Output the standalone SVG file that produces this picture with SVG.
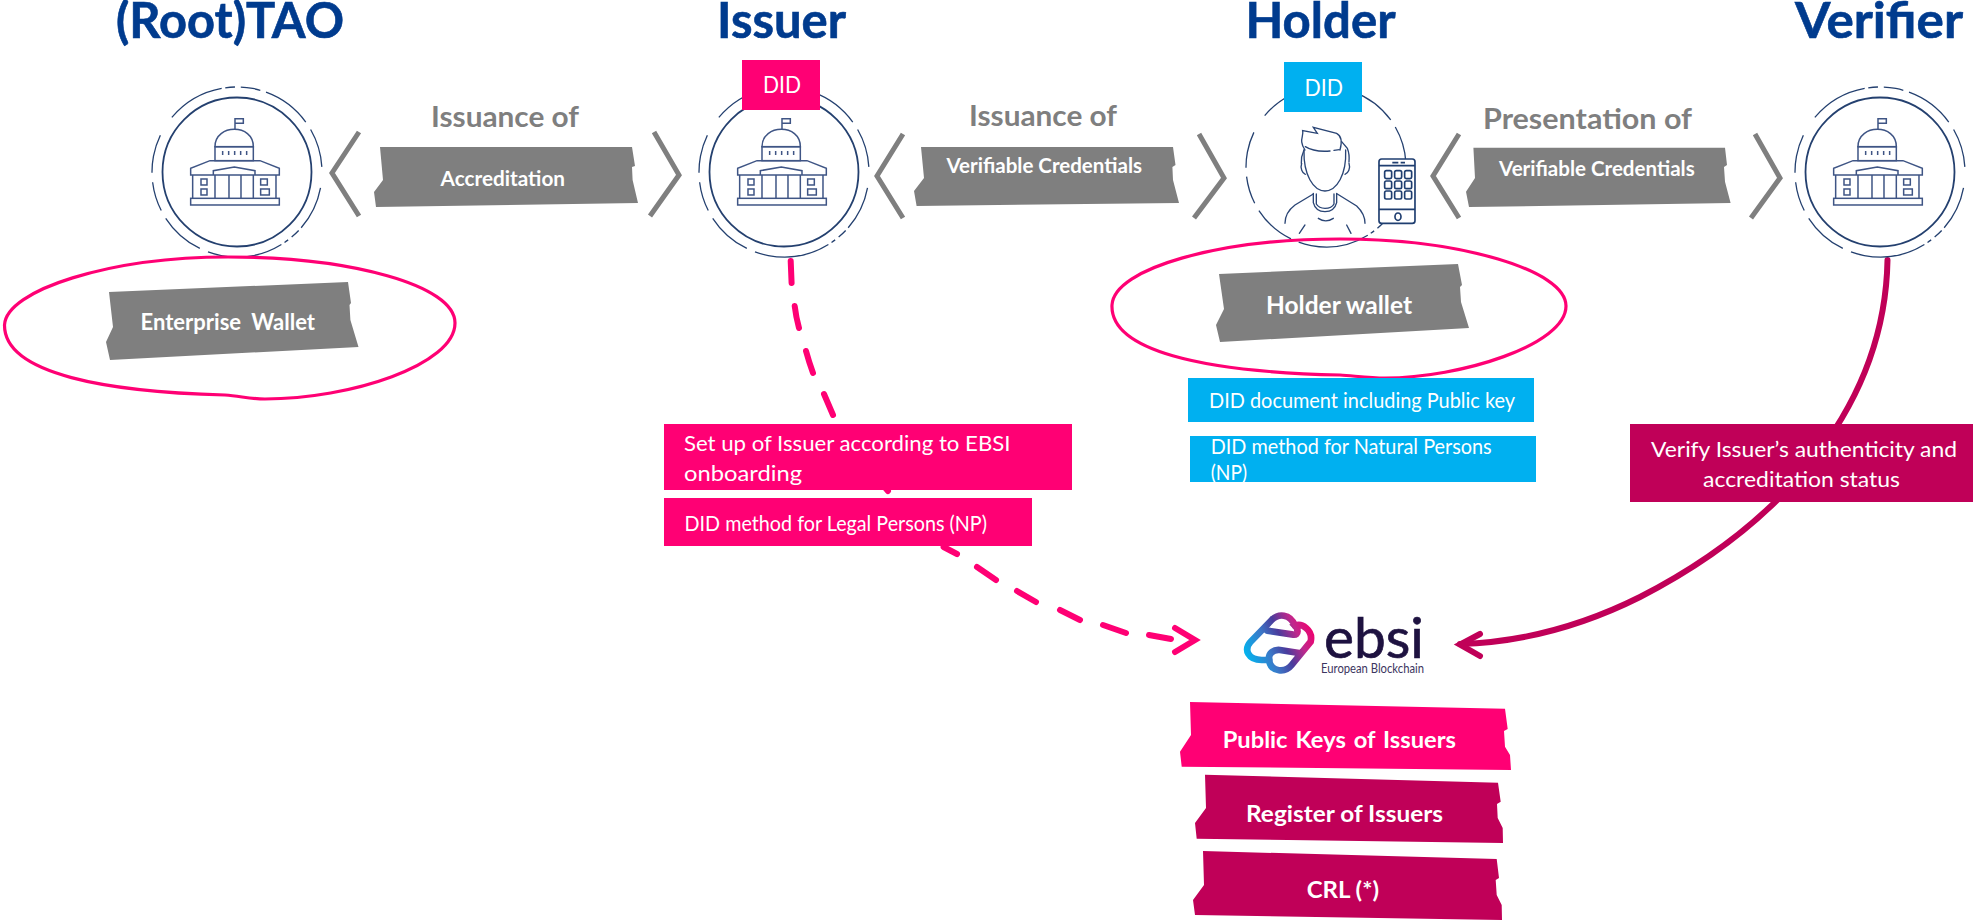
<svg xmlns="http://www.w3.org/2000/svg" width="1973" height="920" viewBox="0 0 1973 920">
<style>
text{font-family:Lato,"Open Sans","Liberation Sans",sans-serif}
.title{font-size:49px;font-weight:700;fill:#003b8e;stroke:#003b8e;stroke-width:.6}
.cap{font-size:29px;font-weight:700;fill:#7f7f7f}
.rb{font-size:20px;font-weight:700;fill:#fff}
.rb2{font-size:22px;font-weight:700;fill:#fff}
.lbl{font-size:21px;fill:#fff}
.did{font-size:23px;fill:#fff}
.gray{fill:#7f7f7f}.pink{fill:#ff0074}.crim{fill:#c00058}.blue{fill:#00b0f0}
.chev{fill:none;stroke:#7f7f7f;stroke-width:5}
.wal{fill:none;stroke:#ff0074;stroke-width:3.200}
.ring{fill:none;stroke:#24406f;stroke-width:1.3;stroke-dasharray:30.3 2.5 6.5 3 3 2.5 51.5 6 31 6 20 6.5 26.2 14.3 39.6 2.4 6.6 3.9 13.5 4 34 6 26.5 14.2}
.bld{fill:none;stroke:#3f5585;stroke-width:4.5}
.per{fill:none;stroke:#2a4575;stroke-width:4;stroke-linecap:round}
.ph{fill:none;stroke:#1f3e70;stroke-width:5}
</style>
<defs>
<g id="gov">
<circle r="74.5" fill="none" stroke="#24406f" stroke-width="1.8"/>
<circle r="85" pathLength="360" class="ring" transform="rotate(10.7)"/>
<g class="bld" transform="translate(-97 -102) scale(.3333)">
<path d="M285 178V146H310V160H287"/>
<path d="M225 230C225 195 255 178 283 178C312 178 340 195 340 230Z"/>
<rect x="225" y="230" width="115" height="42"/>
<path d="M248 243V255M266 243V255M284 243V255M302 243V255M320 243V255"/>
<path d="M210 272H360L418 295V315H152V295Z"/>
<path d="M220 315V302L283 291L345 302V315"/>
<path d="M158 315V385M408 315V385M225 315V385M267 315V385M303 315V385M340 315V385"/>
<rect x="152" y="385" width="266" height="20"/>
<rect x="183" y="327" width="18" height="18"/><rect x="183" y="357" width="18" height="18"/>
<rect x="362" y="327" width="20" height="18"/><rect x="362" y="357" width="26" height="18"/>
</g>
</g>
<linearGradient id="eb" gradientUnits="userSpaceOnUse" x1="50" y1="150" x2="250" y2="60">
<stop offset="0" stop-color="#00b6f0"/><stop offset=".33" stop-color="#3b78c8"/><stop offset=".55" stop-color="#4a3c9c"/><stop offset=".78" stop-color="#c0288c"/><stop offset="1" stop-color="#f0006e"/>
</linearGradient>
<clipPath id="npclip"><rect x="1190" y="436" width="346" height="46"/></clipPath>
</defs>

<g id="connectors">
<path id="issuer-to-ebsi" fill="none" stroke="#ff0074" stroke-width="6" stroke-linecap="round" stroke-linejoin="miter" d="M790.7 261L791.6 283M794.7 306Q796 317 799 328M806 351Q809 362 813 373M824 394L833 415M870 470L888 491M943.6 547L957 554M977 567L996 580M1017 591L1036 602M1060 610L1080 620M1103 625L1126 633M1149 635L1171 639M1175 628L1195 640L1175 652"/>
<path id="verifier-to-ebsi" fill="none" stroke="#c00058" stroke-width="6" stroke-linecap="round" d="M1887.5 260C1885 400 1790 520 1640 597C1590 622 1530 642 1460 644"/>
<path fill="none" stroke="#c00058" stroke-width="6" stroke-linecap="round" d="M1480 634L1460 644.500L1480 656"/>
<polyline class="chev" points="359,132 332,173 359,216"/>
<polyline class="chev" points="654,132 679,175 650,216"/>
<polyline class="chev" points="903,134 877,176 903,218"/>
<polyline class="chev" points="1199,134 1224,178 1194,218"/>
<polyline class="chev" points="1459,134 1433,176 1459,218"/>
<polyline class="chev" points="1755,134 1780,178 1751,218"/>
</g>

<g id="root-tao">
<text class="title" x="116" y="38" textLength="228" lengthAdjust="spacingAndGlyphs">(Root)TAO</text>
<use href="#gov" x="237" y="172"/>
</g>
<g id="issuer">
<text class="title" x="717" y="38" textLength="129" lengthAdjust="spacingAndGlyphs">Issuer</text>
<use href="#gov" x="784" y="172"/>
<rect class="pink" x="742" y="60" width="78" height="50"/>
<text class="did" x="763" y="92.700" textLength="38" lengthAdjust="spacingAndGlyphs">DID</text>
</g>
<g id="holder">
<text class="title" x="1245.500" y="38" textLength="150" lengthAdjust="spacingAndGlyphs">Holder</text>
<circle cx="1326" cy="167" r="80" pathLength="360" class="ring" transform="rotate(10.7 1326 167)"/>
<rect class="blue" x="1284" y="62" width="78" height="50"/>
<text class="did" x="1304.500" y="95.700" textLength="38.500" lengthAdjust="spacingAndGlyphs">DID</text>
<g transform="translate(1230 100) scale(.3333)">
<g class="per">
<path d="M225 150C205 120 222 110 218 92L262 100L250 82L320 100C335 108 337 125 330 150"/>
<path d="M226 140C245 152 275 155 300 153M312 151L328 149"/>
<path d="M335 125L352 145C358 160 358 175 357 186M222 150C215 165 213 175 214 190"/>
<path d="M222 150C220 225 250 272 285 273C320 272 350 225 347 150"/>
<path d="M215 190C210 205 217 220 226 223M357 190C362 205 355 220 345 223"/>
<path d="M250 280V308C255 328 270 335 285 335C300 335 315 328 320 308V280"/>
<path d="M259 282V312C265 322 275 325 285 325C297 325 307 322 312 312V282"/>
<path d="M250 282L195 315C175 330 165 350 165 370M322 282L380 318C398 335 405 350 405 370"/>
<path d="M265 355C280 365 295 365 310 355M225 375L208 400M350 375L363 400"/>
</g>
<g class="ph">
<rect x="447" y="177" width="108" height="193" rx="8" fill="#fff"/>
<path d="M447 197H555M447 328H555M487 188H505M512 188H525"/>
<rect x="464" y="212" width="21" height="24" rx="5"/><rect x="494" y="212" width="21" height="24" rx="5"/><rect x="524" y="212" width="21" height="24" rx="5"/>
<rect x="464" y="243" width="21" height="23" rx="5"/><rect x="494" y="243" width="21" height="23" rx="5"/><rect x="524" y="243" width="21" height="23" rx="5"/>
<rect x="464" y="273" width="21" height="24" rx="5"/><rect x="494" y="273" width="21" height="24" rx="5"/><rect x="524" y="273" width="21" height="24" rx="5"/>
<ellipse cx="504" cy="350" rx="9" ry="11"/>
</g>
</g>
</g>
<g id="verifier">
<text class="title" x="1795" y="38" textLength="168" lengthAdjust="spacingAndGlyphs">Verifier</text>
<use href="#gov" x="1880" y="172"/>
</g>

<g id="accreditation">
<text class="cap" x="431" y="127" textLength="148" lengthAdjust="spacingAndGlyphs">Issuance of</text>
<path class="gray" d="M380 147H632L635 166L632 167L632.600 180L638 203L376 207L374 192L383 180Z"/>
<text class="rb" x="440.600" y="186" textLength="124.400" lengthAdjust="spacingAndGlyphs">Accreditation</text>
</g>
<g id="issuance-vc">
<text class="cap" x="969" y="126" textLength="148" lengthAdjust="spacingAndGlyphs">Issuance of</text>
<path class="gray" d="M921 147H1173L1175.500 165L1172.400 167L1173 180L1179 203L916.600 206L914 191L924 178Z"/>
<text class="rb" x="946.500" y="172.700" textLength="195.500" lengthAdjust="spacingAndGlyphs">Verifiable Credentials</text>
</g>
<g id="presentation-vc">
<text class="cap" x="1483" y="129" textLength="209" lengthAdjust="spacingAndGlyphs">Presentation of</text>
<path class="gray" d="M1473.400 147.700H1725L1727 165L1724 167L1725 181.700L1730.600 203L1469 207L1466 191.700L1475 178Z"/>
<text class="rb" x="1499" y="176" textLength="195.700" lengthAdjust="spacingAndGlyphs">Verifiable Credentials</text>
</g>

<g id="enterprise-wallet">
<path class="gray" d="M109 292L348 282L351 303L349.500 305L350.400 320L358.500 347L110 360L106 342L113 327Z"/>
<text class="rb2" x="140.600" y="330" textLength="174.400" lengthAdjust="spacingAndGlyphs" word-spacing="5">Enterprise Wallet</text>
<path class="wal" d="M4.500 325C6 290 110 257 228 257C350 257 455 285 455 323C455 365 350 399 265 399C250 399 240 396 225 395C110 392 4 375 4.500 325Z"/>
</g>
<g id="holder-wallet">
<path class="gray" d="M1219 274L1458 264L1462 285L1460 287L1461 302L1469 328L1220 342L1216 325L1224 309Z"/>
<text x="1266" y="314" font-size="24" font-weight="700" fill="#fff" textLength="146" lengthAdjust="spacingAndGlyphs">Holder wallet</text>
<path class="wal" d="M1112 305C1114 268 1220 239 1340 239C1460 239 1566 270 1566 306C1566 345 1460 378 1385 378C1370 378 1355 376 1340 375C1200 372 1110 350 1112 305Z"/>
</g>

<g id="did-document">
<rect class="blue" x="1188" y="378" width="346" height="44"/>
<text class="lbl" x="1209" y="408" textLength="306" lengthAdjust="spacingAndGlyphs">DID document including Public key</text>
</g>
<g id="did-method-np">
<rect class="blue" x="1190" y="436" width="346" height="46"/>
<text class="lbl" x="1210.700" y="454" textLength="281" lengthAdjust="spacingAndGlyphs">DID method for Natural Persons</text>
<text class="lbl" x="1210.700" y="480" textLength="36.300" lengthAdjust="spacingAndGlyphs" clip-path="url(#npclip)">(NP)</text>
</g>
<g id="issuer-setup">
<rect class="pink" x="664" y="424" width="408" height="66"/>
<text class="lbl" x="684" y="451" textLength="326.500" lengthAdjust="spacingAndGlyphs">Set up of Issuer according to EBSI</text>
<text class="lbl" x="684" y="481" textLength="118" lengthAdjust="spacingAndGlyphs">onboarding</text>
</g>
<g id="issuer-did-method">
<rect class="pink" x="664" y="498" width="368" height="48"/>
<text class="lbl" x="684.600" y="531" textLength="302.400" lengthAdjust="spacingAndGlyphs">DID method for Legal Persons (NP)</text>
</g>
<g id="verify-box">
<rect class="crim" x="1630" y="424" width="343" height="78"/>
<text class="lbl" x="1651" y="457" textLength="306" lengthAdjust="spacingAndGlyphs">Verify Issuer’s authenticity and</text>
<text class="lbl" x="1703" y="487" textLength="197" lengthAdjust="spacingAndGlyphs">accreditation status</text>
</g>

<g id="ebsi">
<g transform="translate(1230 610) scale(.3333)" fill="none" stroke="url(#eb)" stroke-width="20" stroke-linecap="round">
<path d="M195 47C180 10 145 10 125 30L62 95C40 120 55 150 95 150L118 150"/>
<path d="M112 62L190 74C208 76 204 56 195 47C215 38 250 60 242 95L185 165C165 190 125 185 118 155C112 130 130 118 150 120L212 130"/>
</g>
<text x="1324" y="658" font-size="57" fill="#1e1240" stroke="#1e1240" stroke-width=".7" textLength="100" lengthAdjust="spacingAndGlyphs">ebsi</text>
<text x="1321" y="673" font-size="13.500" fill="#3c3560" textLength="103" lengthAdjust="spacingAndGlyphs">European Blockchain</text>
</g>
<g id="public-keys">
<path class="pink" d="M1190 702L1505 708.700L1507.700 729L1504 731L1505 746.700L1510 755L1511 770L1181.700 766.700L1180 751.700L1191 735Z"/>
<text class="rb2" x="1222.700" y="748" textLength="233.300" lengthAdjust="spacingAndGlyphs" word-spacing="2">Public Keys of Issuers</text>
</g>
<g id="register">
<path class="crim" d="M1205 774.700L1498 782.700L1500.700 801.700L1497 804L1497.700 818L1502.700 828L1503 843L1196.700 838.700L1195 823L1206 808Z"/>
<text class="rb2" x="1246" y="821.700" textLength="197" lengthAdjust="spacingAndGlyphs">Register of Issuers</text>
</g>
<g id="crl">
<path class="crim" d="M1203 851L1496.700 859L1499 878L1495.700 880L1496.700 895L1501.700 905L1502 920L1195 915L1193 900L1204 885Z"/>
<text class="rb2" x="1306.700" y="897.700" textLength="72.300" lengthAdjust="spacingAndGlyphs">CRL (*)</text>
</g>
</svg>
